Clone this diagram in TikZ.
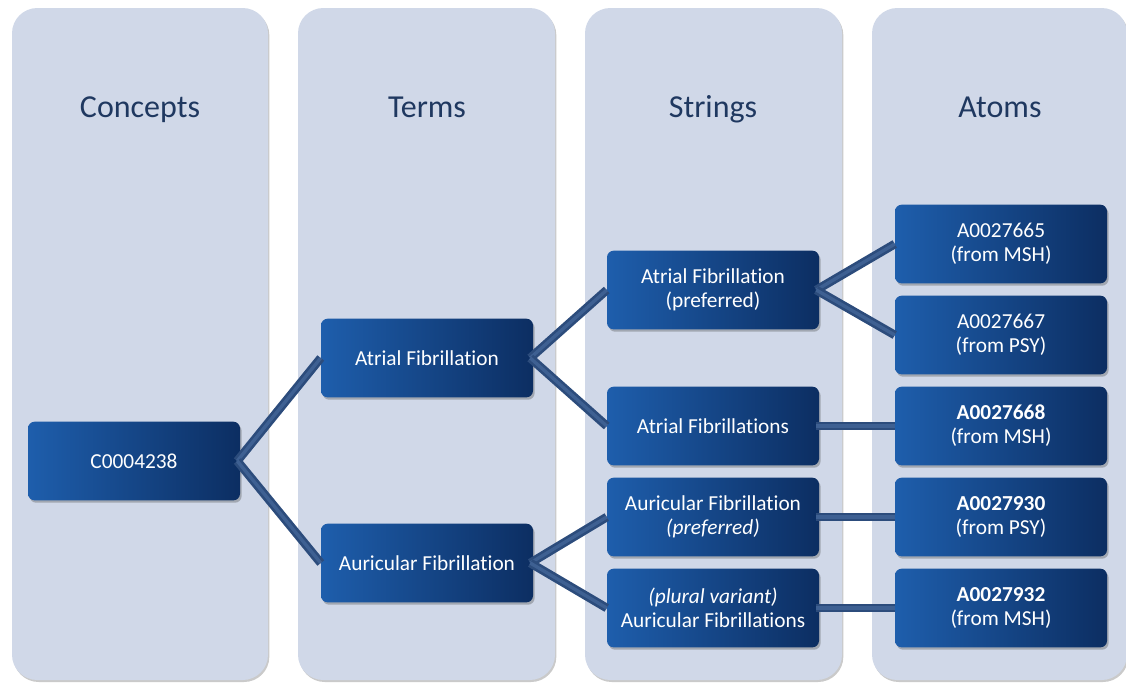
\documentclass[tikz,border=0pt]{standalone}
\usepackage{fontspec}
\setmainfont{Carlito}[Ligatures=NoCommon]
\usetikzlibrary{shadows,calc}
\definecolor{panel}{RGB}{208,216,232}
\definecolor{head}{RGB}{31,56,96}
\definecolor{boxL}{RGB}{30,94,172}
\definecolor{boxM}{RGB}{26,84,158}
\definecolor{boxR}{RGB}{12,46,98}
\definecolor{lnD}{RGB}{44,76,124}
\definecolor{lnL}{RGB}{62,96,146}
\tikzset{
  panelbox/.style={fill=panel, rounded corners=19pt, drop shadow={shadow xshift=1pt,shadow yshift=-1.5pt,opacity=0.35,fill=black!60}},
  headtext/.style={text=head, font=\fontsize{24}{28}\selectfont, anchor=base},
  itembox/.style={rectangle, rounded corners=5pt, minimum width=159pt, minimum height=59pt,
     left color=boxL, middle color=boxM, right color=boxR, draw=none, text=white, align=center,
     font=\fontsize{16}{18}\selectfont,
     drop shadow={shadow xshift=1.2pt,shadow yshift=-1.8pt,opacity=0.35,fill=black!70}},
  conn/.style={draw=lnD, line width=6.5pt},
  connin/.style={draw=lnL, line width=2.5pt}
}
\begin{document}
\begin{tikzpicture}[x=0.75pt,y=-0.75pt]
\useasboundingbox (0,0) rectangle (1126,682);
\clip (0,0) rectangle (1126,682);
% panels
\fill[panelbox] (12,8) rectangle (268,680);
\fill[panelbox] (298,8) rectangle (555,680);
\fill[panelbox] (585,8) rectangle (842,680);
\fill[panelbox] (872,8) rectangle (1127,680);
% headers
\node[headtext] (hC) at (140,117) {Concepts};
\node[headtext] (hT) at (427,117) {Terms};
\node[headtext] (hS) at (713,117) {Strings};
\node[headtext] (hA) at (1000,117) {Atoms};
% coordinates of nodes
\coordinate (pC) at (134,461);
\coordinate (pT1) at (427,358);
\coordinate (pT2) at (427,563);
\coordinate (pS1) at (713,290);
\coordinate (pS2) at (713,426);
\coordinate (pS3) at (713,517);
\coordinate (pS4) at (713,608);
\coordinate (pA1) at (1001,244);
\coordinate (pA2) at (1001,335);
\coordinate (pA3) at (1001,426);
\coordinate (pA4) at (1001,517);
\coordinate (pA5) at (1001,608);
% nodes
\node[itembox] (C) at (pC) {C0004238};
\node[itembox] (T1) at (pT1) {Atrial Fibrillation};
\node[itembox] (T2) at (pT2) {Auricular Fibrillation};
\node[itembox] (S1) at (pS1) {Atrial Fibrillation\\(preferred)};
\node[itembox] (S2) at (pS2) {Atrial Fibrillations};
\node[itembox] (S3) at (pS3) {Auricular Fibrillation\\\textit{(preferred)}};
\node[itembox] (S4) at (pS4) {\textit{(plural variant)}\\Auricular Fibrillations};
\node[itembox] (A1) at (pA1) {A0027665\\(from MSH)};
\node[itembox] (A2) at (pA2) {A0027667\\(from PSY)};
\node[itembox] (A3) at (pA3) {\textbf{A0027668}\\(from MSH)};
\node[itembox] (A4) at (pA4) {\textbf{A0027930}\\(from PSY)};
\node[itembox] (A5) at (pA5) {\textbf{A0027932}\\(from MSH)};
% connectors
\foreach \a/\b in {C/T1,C/T2,T1/S1,T1/S2,T2/S3,T2/S4,S1/A1,S1/A2,S2/A3,S3/A4,S4/A5}{
  \path[conn] ($(\a.east)+(-3,0)$) -- (\b.west);
  \path[connin] ($(\a.east)+(-3,0)$) -- (\b.west);
}
\end{tikzpicture}
\end{document}
